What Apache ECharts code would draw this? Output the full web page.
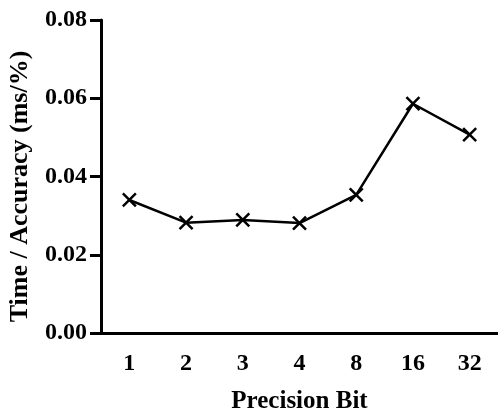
<!DOCTYPE html>
<html>
<head>
<meta charset="utf-8">
<script src="https://cdn.jsdelivr.net/npm/echarts@6/dist/echarts.min.js"></script>
<style>html,body{margin:0;padding:0;background:#fff}#c{width:498px;height:412px}</style>
</head>
<body>
<div id="c"></div>
<script>
const categories = ['1', '2', '3', '4', '8', '16', '32'];
const values = [0.0340, 0.0282, 0.0289, 0.0281, 0.0353, 0.0586, 0.0507];
const yTicks = { min: 0, max: 0.08, interval: 0.02 };
const xTitle = 'Precision Bit';
const yTitle = 'Time / Accuracy (ms/%)';

const font = 'Liberation Serif, Times New Roman, serif';
const chart = echarts.init(document.getElementById('c'), null, { renderer: 'canvas' });
chart.setOption({
  animation: false,
  grid: { left: 101, right: 0, top: 20, bottom: 79, containLabel: false, outerBoundsMode: 'none' },
  xAxis: {
    type: 'category',
    data: categories,
    boundaryGap: true,
    name: xTitle,
    nameLocation: 'middle',
    nameGap: 56,
    nameTextStyle: { fontFamily: font, fontWeight: 'bold', fontSize: 25, color: '#000' },
    axisLine: { lineStyle: { color: '#000', width: 3 } },
    axisTick: { alignWithLabel: true, length: 12, lineStyle: { color: '#000', width: 3 } },
    axisLabel: { fontFamily: font, fontWeight: 'bold', fontSize: 24, color: '#000', margin: 19 },
    splitLine: { show: false }
  },
  yAxis: {
    type: 'value',
    min: yTicks.min, max: yTicks.max, interval: yTicks.interval,
    name: yTitle,
    nameLocation: 'middle',
    nameGap: 68,
    nameTextStyle: { fontFamily: font, fontWeight: 'bold', fontSize: 26, color: '#000', padding: [0, 20, 0, 0] },
    axisLine: { show: true, lineStyle: { color: '#000', width: 3 } },
    axisTick: { show: true, length: 11, lineStyle: { color: '#000', width: 3 } },
    axisLabel: { fontFamily: font, fontWeight: 'bold', fontSize: 24, color: '#000', margin: 14,
      formatter: v => v.toFixed(2) },
    splitLine: { show: false }
  },
  series: [{
    type: 'line',
    data: values,
    symbol: 'path://M0,0L10,10M0,10L10,0',
    symbolSize: 13,
    itemStyle: { color: '#000', borderColor: '#000', borderWidth: 2.5 },
    lineStyle: { color: '#000', width: 2.5 }
  }]
});
</script>
</body>
</html>
